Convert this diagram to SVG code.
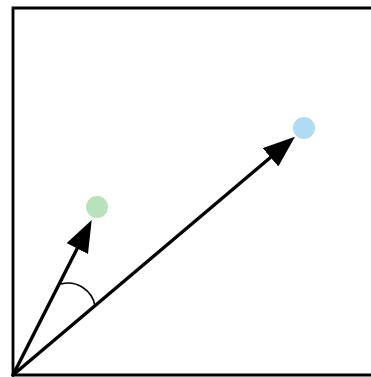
<svg xmlns="http://www.w3.org/2000/svg" width="371" height="377" viewBox="0 0 371 377">
<style>
.frame{fill:none;stroke:#000;stroke-width:2.8}
.vec{fill:none;stroke:#000;stroke-width:3.4;stroke-linecap:round}
.arc{fill:none;stroke:#000;stroke-width:1.6}
</style>
<defs>
<marker id="head" markerUnits="userSpaceOnUse" viewBox="0 -12 32 24" markerWidth="32" markerHeight="24" refX="1" refY="0" orient="auto">
<path d="M0,-12 L32,0 L0,12 z" fill="#000"/>
</marker>
</defs>
<rect width="371" height="377" fill="#fff"/>
<path class="frame" d="M380,8 H13 V375 H380"/>
<g id="blue-point"><circle cx="304" cy="128" r="11" fill="#aedcf3"/></g>
<g id="green-point"><circle cx="97" cy="207" r="11" fill="#b7e2bc"/></g>
<g id="connectors">
<line class="vec" x1="13" y1="375" x2="271.3" y2="156.7" marker-end="url(#head)"/>
<line class="vec" x1="13" y1="375" x2="77.7" y2="247.6" marker-end="url(#head)"/>
<path class="arc" d="M61,284 A27.5,27.5 0 0 1 95,306"/>
</g>
</svg>
